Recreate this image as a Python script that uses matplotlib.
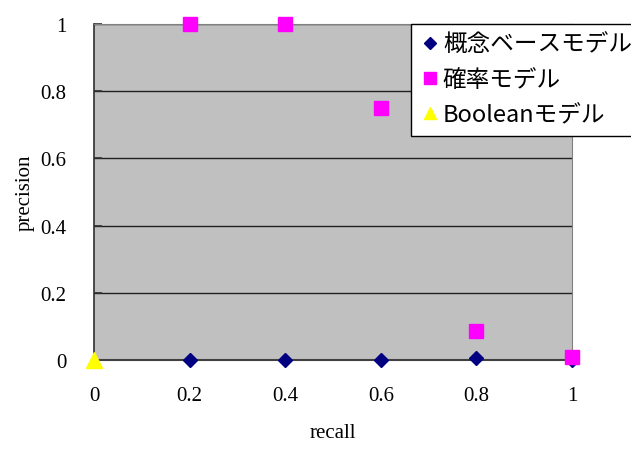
import matplotlib.pyplot as plt
from matplotlib.ticker import FixedLocator

plt.rcParams['font.family'] = ['Liberation Serif', 'DejaVu Serif']

# データ
recall = [0, 0.2, 0.4, 0.6, 0.8, 1]
concept_prec = [None, 0.0, 0.0, 0.0, 0.005, 0.0]
prob_prec = [None, 1.0, 1.0, 0.75, 0.085, 0.01]
bool_recall = [0]
bool_prec = [0.0]
x_ticks = [0, 0.2, 0.4, 0.6, 0.8, 1]
y_ticks = [0, 0.2, 0.4, 0.6, 0.8, 1]
labels = ['概念ベースモデル', '確率モデル', 'Booleanモデル']

fig = plt.figure(figsize=(6.31, 4.52), dpi=100)
ax = fig.add_axes([94 / 631, 1 - 361 / 452, (572 - 94) / 631, (361 - 25) / 452])
ax.set_facecolor('#C0C0C0')

cx = [r for r, p in zip(recall, concept_prec) if p is not None]
cy = [p for p in concept_prec if p is not None]
px = [r for r, p in zip(recall, prob_prec) if p is not None]
py = [p for p in prob_prec if p is not None]

h1, = ax.plot(cx, cy, linestyle='none', marker='D', color='#000080', markersize=7, clip_on=False, zorder=3)
h2, = ax.plot(px, py, linestyle='none', marker='s', color='#FF00FF', markersize=10, clip_on=False, zorder=4)
h3, = ax.plot(bool_recall, bool_prec, linestyle='none', marker='^', color='#FFFF00', markersize=11, clip_on=False, zorder=3)

ax.set_xlim(0, 1)
ax.set_ylim(0, 1)
ax.xaxis.set_major_locator(FixedLocator(x_ticks))
ax.yaxis.set_major_locator(FixedLocator(y_ticks))
ax.set_xticklabels(['0', '0.2', '0.4', '0.6', '0.8', '1'])
ax.set_yticklabels(['0', '0.2', '0.4', '0.6', '0.8', '1'])
ax.tick_params(axis='x', length=0, labelsize=15, pad=19)
ax.tick_params(axis='y', direction='in', length=6, width=1.2, color='#303030', labelsize=15, pad=20)
ax.yaxis.grid(True, color='#202020', linewidth=1)
ax.set_axisbelow(True)

ax.spines['top'].set_color('#808080')
ax.spines['right'].set_color('#808080')
ax.spines['left'].set_color('#303030')
ax.spines['bottom'].set_color('#404040')
ax.spines['left'].set_linewidth(1.2)
ax.spines['bottom'].set_linewidth(1.5)

ax.set_xlabel('recall', fontsize=15, labelpad=13)
ax.set_ylabel('precision', fontsize=15, labelpad=4)

# 凡例は図の右端まではみ出す
leg = fig.legend([h1, h2, h3], labels, loc='upper left',
                 bbox_to_anchor=(411 / 631, 1 - 25 / 452),
                 prop={'family': ['Noto Sans CJK JP', 'DejaVu Sans'], 'size': 17},
                 frameon=True, fancybox=False, edgecolor='black', framealpha=1,
                 handletextpad=0.15, handlelength=0.8, borderpad=0.4, labelspacing=0.5,
                 borderaxespad=0, markerscale=0.85)
leg.get_frame().set_linewidth(1)

fig.savefig('out.png', dpi=100)
